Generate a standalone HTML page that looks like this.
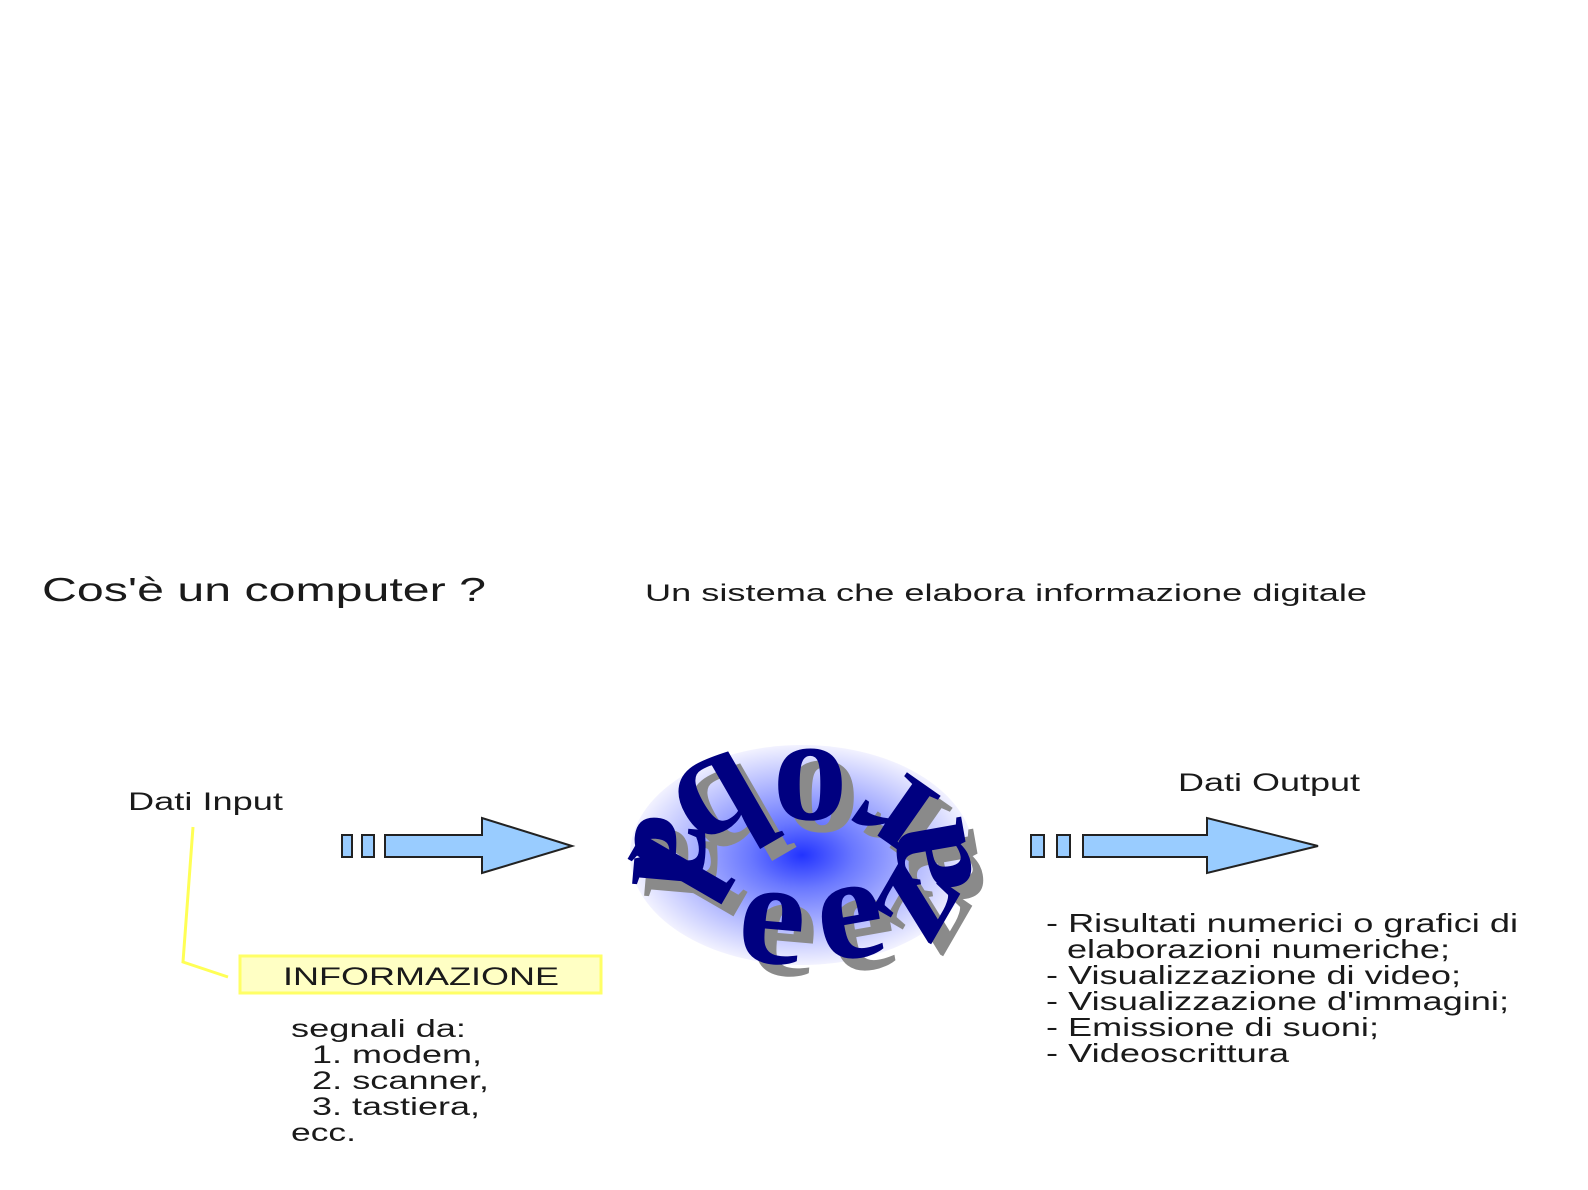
<!DOCTYPE html>
<html><head><meta charset="utf-8"><style>
html,body{margin:0;padding:0;background:#fff;}
svg{display:block}
text{font-family:"Liberation Sans",sans-serif;fill:#1a1a1a}
text.lg{font-family:"Liberation Serif",serif;font-size:150px;font-weight:bold;text-anchor:middle;dominant-baseline:central}
.sh text.lg{fill:#8a8a8a}
.fg text.lg{fill:#000080}
</style></head><body>
<svg width="1588" height="1190" viewBox="0 0 1588 1190">
<defs>
<radialGradient id="g" cx="50%" cy="50%" r="50%">
<stop offset="0" stop-color="#2233ff"/>
<stop offset="0.3" stop-color="#6a78ff"/>
<stop offset="0.7" stop-color="#b8beff"/>
<stop offset="1" stop-color="#f2f2ff"/>
</radialGradient>
</defs>
<text x="42" y="601" font-size="33" textLength="444" lengthAdjust="spacingAndGlyphs">Cos'è un computer ?</text>
<text x="645" y="601" font-size="24" textLength="722" lengthAdjust="spacingAndGlyphs">Un sistema che elabora informazione digitale</text>

<text x="128" y="810" font-size="25" textLength="155" lengthAdjust="spacingAndGlyphs">Dati Input</text>
<text x="1178" y="791" font-size="25" textLength="182" lengthAdjust="spacingAndGlyphs">Dati Output</text>

<polyline points="193,827 183,962 228,977" fill="none" stroke="#ffff55" stroke-width="3"/>
<rect x="240" y="956" width="361" height="37" fill="#ffffc4" stroke="#ffff66" stroke-width="3"/>
<text x="283" y="985" font-size="25" textLength="276" lengthAdjust="spacingAndGlyphs">INFORMAZIONE</text>

<g font-size="25">
<text x="291" y="1037" textLength="175" lengthAdjust="spacingAndGlyphs">segnali da:</text>
<text x="312" y="1063" textLength="170" lengthAdjust="spacingAndGlyphs">1. modem,</text>
<text x="312" y="1089" textLength="177" lengthAdjust="spacingAndGlyphs">2. scanner,</text>
<text x="312" y="1115" textLength="168" lengthAdjust="spacingAndGlyphs">3. tastiera,</text>
<text x="291" y="1141" textLength="65" lengthAdjust="spacingAndGlyphs">ecc.</text>
</g>
<g font-size="26">
<text x="1046" y="932" textLength="472" lengthAdjust="spacingAndGlyphs">- Risultati numerici o grafici di</text>
<text x="1067" y="958" textLength="383" lengthAdjust="spacingAndGlyphs">elaborazioni numeriche;</text>
<text x="1046" y="984" textLength="415" lengthAdjust="spacingAndGlyphs">- Visualizzazione di video;</text>
<text x="1046" y="1010" textLength="463" lengthAdjust="spacingAndGlyphs">- Visualizzazione d'immagini;</text>
<text x="1046" y="1036" textLength="333" lengthAdjust="spacingAndGlyphs">- Emissione di suoni;</text>
<text x="1046" y="1062" textLength="243" lengthAdjust="spacingAndGlyphs">- Videoscrittura</text>
</g>

<g fill="#99ccff" stroke="#222" stroke-width="2">
<rect x="342" y="835" width="10" height="22"/>
<rect x="362" y="835" width="12" height="22"/>
<polygon points="385,835 482,835 482,818 572,846 482,873 482,857 385,857"/>
<rect x="1031" y="835" width="13" height="22"/>
<rect x="1057" y="835" width="13" height="22"/>
<polygon points="1083,835 1207,835 1207,818 1318,846 1207,873 1207,857 1083,857"/>
</g>

<ellipse cx="802" cy="855" rx="172" ry="110" fill="url(#g)"/>
<g class="sh">
<text class="lg" transform="translate(692,880) rotate(120)" font-size="230">l</text>
<text class="lg" transform="translate(697,865) rotate(95)">a</text>
<text class="lg" transform="translate(735,820) rotate(150)">b</text>
<text class="lg" transform="translate(822,812) rotate(180)">o</text>
<text class="lg" transform="translate(900,832) rotate(215)">r</text>
<text class="lg" transform="translate(930,872) rotate(260)">a</text>
<text class="lg" transform="translate(915,905) rotate(300)">z</text>
<text class="lg" transform="translate(785,925) rotate(5)">e</text>
<text class="lg" transform="translate(860,920) rotate(-10)">e</text>
</g>
<g class="fg">
<text class="lg" transform="translate(680,868) rotate(120)" font-size="230">l</text>
<text class="lg" transform="translate(685,853) rotate(95)">a</text>
<text class="lg" transform="translate(723,808) rotate(150)">b</text>
<text class="lg" transform="translate(810,800) rotate(180)">o</text>
<text class="lg" transform="translate(888,820) rotate(215)">r</text>
<text class="lg" transform="translate(918,860) rotate(260)">a</text>
<text class="lg" transform="translate(903,893) rotate(300)">z</text>
<text class="lg" transform="translate(773,913) rotate(5)">e</text>
<text class="lg" transform="translate(848,908) rotate(-10)">e</text>
</g>
</svg>
</body></html>
